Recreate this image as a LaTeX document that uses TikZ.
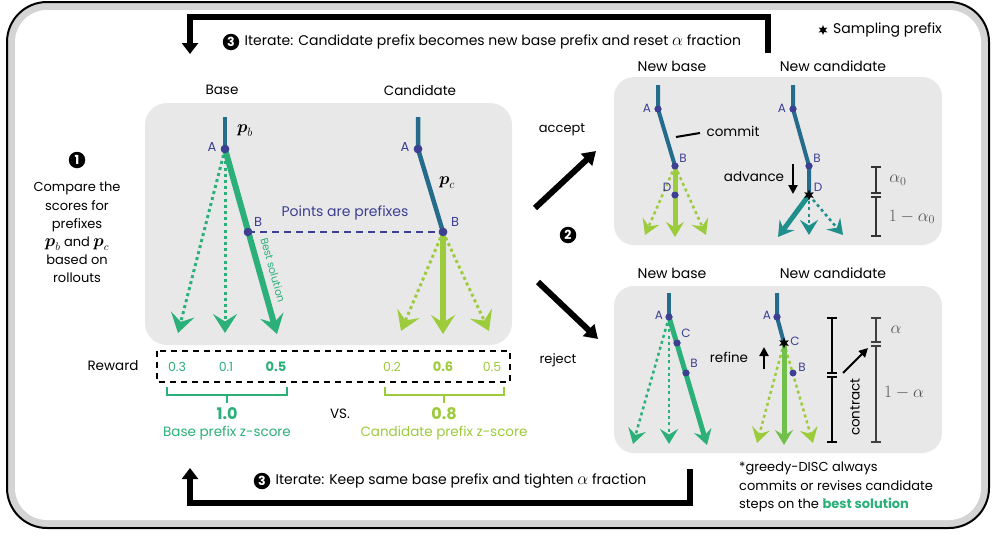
\documentclass[tikz,border=0pt]{standalone}
\usepackage{amsmath}
\usepackage{fontspec}
\setmainfont{Poppins}
\usetikzlibrary{arrows.meta,shapes.geometric}

\definecolor{stemc}{HTML}{256B8C}
\definecolor{navy}{HTML}{3C3F92}
\definecolor{bgreen}{HTML}{2BB07A}
\definecolor{lgreen}{HTML}{9CCB3B}
\definecolor{mgreen}{HTML}{72C04C}
\definecolor{tealc}{HTML}{1F8F8C}
\definecolor{panel}{HTML}{E8E8E8}
\definecolor{band}{HTML}{D4D4D4}
\definecolor{mathgray}{HTML}{555555}

\begin{document}
\begin{tikzpicture}[x=1pt,y=-1pt,
  txt/.style={inner sep=0, font=\fontsize{13.5}{16}\selectfont},
  bigtxt/.style={inner sep=0, font=\fontsize{14}{16}\selectfont},
  small/.style={inner sep=0, font=\fontsize{12.5}{14}\selectfont},
  ptlbl/.style={inner sep=0, text=navy, font=\fontsize{12}{14}\selectfont},
  dot/.style={circle, fill=navy, inner sep=0, minimum size=8.5pt},
  stemln/.style={draw=stemc, line width=4.5pt},
  solidrl/.style={line width=6pt},
  dotrl/.style={line width=3pt, dash pattern=on 3pt off 3.2pt},
  headL/.style={-{Stealth[length=19pt,width=24pt,inset=7.5pt]}},
  headS/.style={-{Stealth[length=15pt,width=18pt,inset=5.5pt]}},
  sampstar/.style={star, star points=6, star point ratio=2.2, fill=black, inner sep=0, minimum size=11pt},
  iter/.style={line width=6pt, line join=miter},
  numc/.style={circle, fill=black, text=white, inner sep=0, minimum size=16.5pt, font=\fontsize{12.5}{12.5}\selectfont\bfseries},
  scl/.style={line width=2pt},
  mlbl/.style={inner sep=0, text=mathgray, font=\fontsize{17.5}{19}\selectfont},
]
\useasboundingbox (0,0) rectangle (995,533);

% outer frame: black rim with a grey band inside
\path[fill=band, draw=black, line width=2pt, rounded corners=40pt] (7,2) rectangle (989,528);
\path[fill=white, rounded corners=32pt] (15,10) rectangle (981,520);

% grey panels
\path[fill=panel, rounded corners=22pt] (145,103) rectangle (512,345);
\path[fill=panel, rounded corners=20pt] (614,77) rectangle (942,245);
\path[fill=panel, rounded corners=20pt] (614,286) rectangle (942,453);

% ---------- iterate loops ----------
\coordinate (ta) at (768,53);
\coordinate (tb) at (768,17);
\coordinate (tc) at (190,17);
\coordinate (td) at (190,54);
\draw[iter, -{Triangle[length=11pt,width=16pt]}] (ta) -- (tb) -- (tc) -- (td);
\node[numc] (n3a) at (231,42) {3};
\node[bigtxt, anchor=west] (it3a) at ([xshift=5pt]n3a.east) {Iterate: Candidate prefix becomes new base prefix and reset {\fontsize{16}{16}\selectfont$\alpha$} fraction};

\coordinate (ba) at (690,469);
\coordinate (bb) at (690,503);
\coordinate (bc) at (190,503);
\coordinate (bd) at (190,468);
\draw[iter, -{Triangle[length=11pt,width=16pt]}] (ba) -- (bb) -- (bc) -- (bd);
\node[numc] (n3b) at (262,481) {3};
\node[bigtxt, anchor=west] (it3b) at ([xshift=5pt]n3b.east) {Iterate: Keep same base prefix and tighten {\fontsize{16}{16}\selectfont$\alpha$} fraction};

% legend
\node[sampstar, minimum size=10pt] (legstar) at (823,30) {};
\node[bigtxt, anchor=west] (legtxt) at (833,30) {Sampling prefix};

% ---------- step 1 text ----------
\node[numc] (n1) at (77,160) {1};
\node[txt, align=center, font=\fontsize{13}{18.2}\selectfont, anchor=north] (cmp) at (77,182)
  {Compare the\\scores for\\prefixes\\{\fontsize{16}{18}\selectfont$\boldsymbol{p}_b$} and {\fontsize{16}{18}\selectfont$\boldsymbol{p}_c$}\\based on\\rollouts};

% ---------- base / candidate trees ----------
\node[txt] (lbase) at (222,90) {Base};
\node[txt] (lcand) at (420,90) {Candidate};

\coordinate (bT) at (225,117);
\node[dot] (bA) at (225,149) {};
\node[dot] (bB) at (248,232) {};
\coordinate (bE1) at (178,333);
\coordinate (bE2) at (225,333);
\coordinate (bE3) at (277,334);

\coordinate (cT) at (418,117);
\node[dot] (cA) at (418,149) {};
\node[dot] (cB) at (443,232) {};
\coordinate (cE1) at (401,331);
\coordinate (cE2) at (443,334);
\coordinate (cE3) at (489,331);

\draw[stemln] (bT) -- (bA.center);
\draw[bgreen, dotrl, headL] (bA.center) -- (bE1);
\draw[bgreen, dotrl, headL] (bA.center) -- (bE2);
\draw[bgreen, solidrl, headL] (bA.center) -- (bE3);

\draw[stemln] (cT) -- (cA.center) -- (cB.center);
\draw[lgreen, dotrl, headL] (cB.center) -- (cE1);
\draw[lgreen, solidrl, headL] (cB.center) -- (cE2);
\draw[lgreen, dotrl, headL] (cB.center) -- (cE3);

\draw[navy, line width=2pt, dash pattern=on 7pt off 5pt] (bB.center) -- (cB.center);
\node[dot] at (bA) {};
\node[dot] at (bB) {};
\node[dot] at (cA) {};
\node[dot] at (cB) {};

\node[ptlbl, font=\fontsize{13}{14}\selectfont] (lbA) at (212,147) {A};
\node[ptlbl, font=\fontsize{13}{14}\selectfont] (lbB) at (258,222) {B};
\node[ptlbl, font=\fontsize{13}{14}\selectfont] (lcA) at (405,147) {A};
\node[ptlbl, font=\fontsize{13}{14}\selectfont] (lcB) at (455,222) {B};
\node[inner sep=0, font=\fontsize{18}{20}\selectfont] (pb) at (245,131) {$\boldsymbol{p}_b$};
\node[inner sep=0, font=\fontsize{18}{20}\selectfont] (pc) at (447,183) {$\boldsymbol{p}_c$};
\node[inner sep=0, text=navy, font=\fontsize{14}{16}\selectfont] (ptsp) at (345,213) {Points are prefixes};
\node[inner sep=0, text=bgreen, font=\fontsize{10.5}{12}\selectfont, rotate=-74.5] (bestlbl) at (273,270) {Best solution};

% ---------- rewards ----------
\node[txt] (rew) at (113,366) {Reward};
\draw[black, line width=2pt, dash pattern=on 6pt off 5pt] (157,351) rectangle (510,382);
\node[small, text=bgreen] (r1) at (177,367) {0.3};
\node[small, text=bgreen] (r2) at (226,367) {0.1};
\node[small, text=bgreen, font=\fontsize{13}{14}\selectfont\bfseries] (r3) at (276,367) {0.5};
\node[small, text=lgreen] (r4) at (392,367) {0.2};
\node[small, text=lgreen, font=\fontsize{13}{14}\selectfont\bfseries] (r5) at (443,367) {0.6};
\node[small, text=lgreen] (r6) at (492,367) {0.5};

\draw[bgreen, line width=2.5pt] (167,387) -- (167,395) -- (287,395) -- (287,387);
\draw[bgreen, line width=2.5pt] (227,395) -- (227,403);
\draw[lgreen, line width=2.5pt] (385,387) -- (385,395) -- (504,395) -- (504,387);
\draw[lgreen, line width=2.5pt] (444,395) -- (444,403);

\node[inner sep=0, text=bgreen, font=\fontsize{16}{18}\selectfont\bfseries] (zb) at (227,414) {1.0};
\node[inner sep=0, text=bgreen, font=\fontsize{13.5}{16}\selectfont] (zbl) at (227,433) {Base prefix z-score};
\node[txt] (vs) at (340,414) {VS.};
\node[inner sep=0, text=lgreen, font=\fontsize{16}{18}\selectfont\bfseries] (zc) at (444,414) {0.8};
\node[inner sep=0, text=lgreen, font=\fontsize{13.5}{16}\selectfont] (zcl) at (444,433) {Candidate prefix z-score};

% ---------- accept / reject ----------
\coordinate (acc0) at (535,208);
\coordinate (acc1) at (596,151);
\coordinate (rej0) at (538,282);
\coordinate (rej1) at (598,339);
\draw[line width=6pt, -{Triangle[length=13pt,width=16pt]}] (acc0) -- (acc1);
\draw[line width=6pt, -{Triangle[length=13pt,width=16pt]}] (rej0) -- (rej1);
\node[txt, font=\fontsize{13}{15}\selectfont] (lacc) at (562,130) {accept};
\node[txt, font=\fontsize{13}{15}\selectfont] (lrej) at (558,360) {reject};
\node[numc] (n2) at (568,235) {2};

% ---------- accept panel ----------
\node[bigtxt] (lnb1) at (672,66) {New base};
\node[bigtxt] (lnc1) at (833,66) {New candidate};

\coordinate (abT) at (658,85);
\node[dot, minimum size=7pt] (abA) at (658,109) {};
\node[dot, minimum size=7pt] (abB) at (675,166) {};
\node[dot, minimum size=7pt] (abD) at (675,195) {};
\coordinate (abE1) at (645,235);
\coordinate (abE2) at (675,237);
\coordinate (abE3) at (706,235);
\draw[stemln, line width=4pt] (abT) -- (abA.center) -- (abB.center);
\draw[lgreen, dotrl, line width=2.5pt, headS] (abB.center) -- (abE1);
\draw[lgreen, dotrl, line width=2.5pt, headS] (abB.center) -- (abE3);
\draw[lgreen, solidrl, line width=5pt, headS] (abB.center) -- (abE2);
\node[dot, minimum size=7pt] at (abA) {};
\node[dot, minimum size=7pt] at (abB) {};
\node[dot, minimum size=7pt] at (abD) {};
\node[ptlbl] (labA) at (647,108) {A};
\node[ptlbl] (labB) at (683,158) {B};
\node[ptlbl] (labD) at (667,187) {D};
\coordinate (cm0) at (676,137);
\coordinate (cm1) at (700,133);
\draw[line width=2pt] (cm0) -- (cm1);
\node[txt] (lcommit) at (733,131) {commit};

\coordinate (acT) at (793,85);
\node[dot, minimum size=7pt] (acA) at (793,109) {};
\node[dot, minimum size=7pt] (acB) at (809,166) {};
\coordinate (acD) at (809,195);
\coordinate (acE1) at (778,237);
\coordinate (acE2) at (809,235);
\coordinate (acE3) at (843,235);
\draw[stemln, line width=4pt] (acT) -- (acA.center) -- (acB.center) -- (acD);
\draw[tealc, dotrl, line width=2.5pt, headS] (acD) -- (acE2);
\draw[tealc, dotrl, line width=2.5pt, headS] (acD) -- (acE3);
\draw[tealc, solidrl, line width=5pt, headS] (acD) -- (acE1);
\node[dot, minimum size=7pt] at (acA) {};
\node[dot, minimum size=7pt] at (acB) {};
\node[sampstar] (acS) at (acD) {};
\node[ptlbl] (lacA) at (782,108) {A};
\node[ptlbl] (lacB) at (817,158) {B};
\node[ptlbl] (lacD) at (818,187) {D};
\node[txt] (ladv) at (754,177) {advance};
\coordinate (adv0) at (793,164);
\coordinate (adv1) at (793,194);
\draw[line width=2.5pt, -{Triangle[length=9pt,width=9pt]}] (adv0) -- (adv1);

% alpha_0 scale
\draw[scl, draw=black!80] (871,167) -- (881,167);
\draw[scl, draw=black!80] (876,167) -- (876,193);
\draw[scl, draw=black!80] (871,193) -- (881,193);
\draw[scl, draw=black!80] (871,197) -- (881,197);
\draw[scl, draw=black!80] (876,197) -- (876,236);
\draw[scl, draw=black!80] (871,236) -- (881,236);
\node[mlbl] (la0) at (898,180) {$\alpha_0$};
\node[mlbl] (l1a0) at (912,217) {$1-\alpha_0$};

% ---------- reject panel ----------
\node[bigtxt] (lnb2) at (672,273) {New base};
\node[bigtxt] (lnc2) at (833,273) {New candidate};

\coordinate (rbT) at (669,293);
\node[dot, minimum size=7pt] (rbA) at (669,317) {};
\node[dot, minimum size=7pt] (rbC) at (677,343) {};
\node[dot, minimum size=7pt] (rbB) at (686,373) {};
\coordinate (rbE1) at (633,444);
\coordinate (rbE2) at (669,444);
\coordinate (rbE3) at (707,445);
\draw[stemln, line width=4pt] (rbT) -- (rbA.center);
\draw[bgreen, dotrl, line width=2.5pt, headS] (rbA.center) -- (rbE1);
\draw[bgreen, dotrl, line width=2.5pt, headS] (rbA.center) -- (rbE2);
\draw[bgreen, solidrl, line width=5pt, headS] (rbA.center) -- (rbE3);
\node[dot, minimum size=7pt] at (rbA) {};
\node[dot, minimum size=7pt] at (rbC) {};
\node[dot, minimum size=7pt] at (rbB) {};
\node[ptlbl] (lrbA) at (659,315) {A};
\node[ptlbl] (lrbC) at (686,333) {C};
\node[ptlbl] (lrbB) at (694,363) {B};

\coordinate (rcT) at (777,293);
\node[dot, minimum size=7pt] (rcA) at (777,317) {};
\coordinate (rcC) at (784,343);
\coordinate (rcE1) at (757,443);
\coordinate (rcE2) at (784,445);
\coordinate (rcE3) at (813,443);
\draw[stemln, line width=4pt] (rcT) -- (rcA.center) -- (rcC);
\draw[lgreen, dotrl, line width=2.5pt, headS] (rcC) -- (rcE1);
\draw[lgreen, dotrl, line width=2.5pt, headS] (rcC) -- (rcE3);
\draw[mgreen, solidrl, line width=5pt, headS] (rcC) -- (rcE2);
\node[dot, minimum size=7pt] at (rcA) {};
\node[dot, minimum size=7pt] (rcB) at (793,373) {};
\node[sampstar] (rcS) at (rcC) {};
\node[ptlbl] (lrcA) at (767,315) {A};
\node[ptlbl] (lrcC) at (795,341) {C};
\node[ptlbl] (lrcB) at (802,367) {B};
\node[txt] (lref) at (729,357) {refine};
\coordinate (ref0) at (764,369);
\coordinate (ref1) at (764,347);
\draw[line width=2.5pt, -{Triangle[length=9pt,width=9pt]}] (ref0) -- (ref1);

% contract scales
\draw[scl] (827,318) -- (837,318);
\draw[scl] (832,318) -- (832,373);
\draw[scl] (827,373) -- (837,373);
\draw[scl] (827,377) -- (837,377);
\draw[scl] (832,377) -- (832,442);
\draw[scl] (827,442) -- (837,442);

\draw[scl, draw=black!75] (871,318) -- (881,318);
\draw[scl, draw=black!75] (876,318) -- (876,342);
\draw[scl, draw=black!75] (871,342) -- (881,342);
\draw[scl, draw=black!75] (871,346) -- (881,346);
\draw[scl, draw=black!75] (876,346) -- (876,442);
\draw[scl, draw=black!75] (871,442) -- (881,442);
\node[mlbl] (lal) at (896,330) {$\alpha$};
\node[mlbl] (l1al) at (904,393) {$1-\alpha$};
\node[txt, rotate=90] (lcontr) at (855,407) {contract};
\coordinate (ct0) at (843,373);
\coordinate (ct1) at (868,348);
\draw[line width=2pt, -{Triangle[length=9pt,width=9pt]}] (ct0) -- (ct1);

% ---------- footnote ----------
\node[txt, anchor=north west, align=left, font=\fontsize{13}{18.5}\selectfont] (foot) at (739,462)
  {*greedy-DISC always\\commits or revises candidate\\steps on the {\bfseries\color{bgreen}best solution}};

\end{tikzpicture}
\end{document}
